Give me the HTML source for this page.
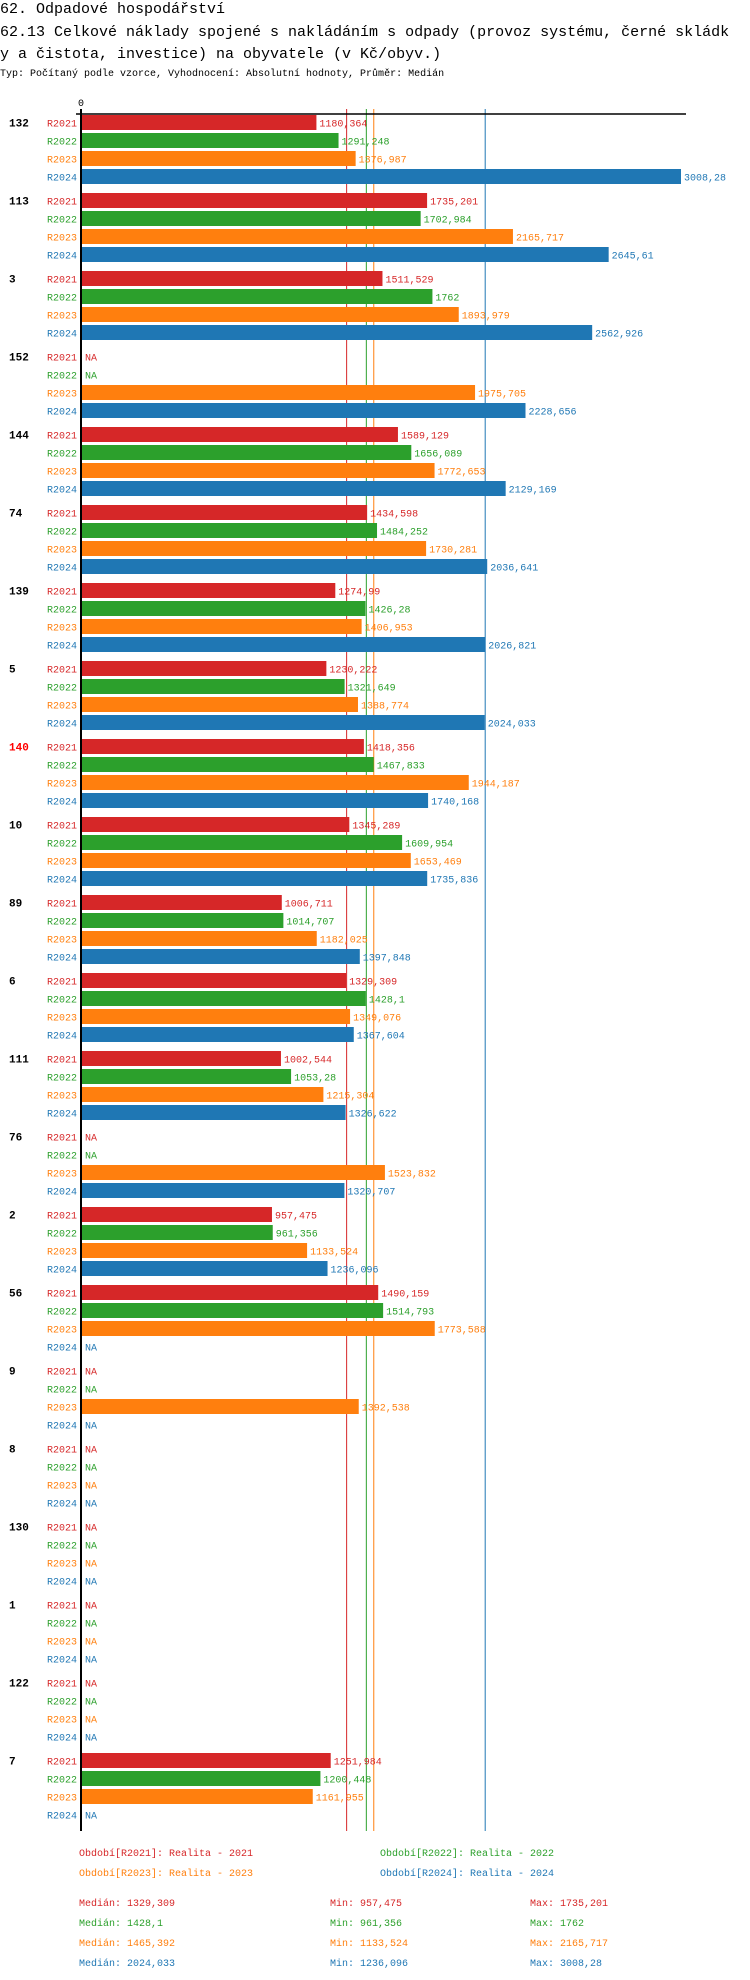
<!DOCTYPE html>
<html><head><meta charset="utf-8"><style>
body{margin:0;background:#fff;width:750px;height:1980px;overflow:hidden}
svg{display:block}
text{font-family:"Liberation Mono","DejaVu Sans Mono",monospace}
</style></head><body>
<svg id="chart" width="750" height="1980" xmlns="http://www.w3.org/2000/svg">
<text x="0" y="13" font-size="15" fill="#000">62. Odpadové hospodářství</text>
<text x="0" y="36" font-size="15" fill="#000">62.13 Celkové náklady spojené s nakládáním s odpady (provoz systému, černé skládk</text>
<text x="0" y="58" font-size="15" fill="#000">y a čistota, investice) na obyvatele (v Kč/obyv.)</text>
<text x="0" y="76" font-size="10" fill="#000">Typ: Počítaný podle vzorce, Vyhodnocení: Absolutní hodnoty, Průměr: Medián</text>
<g id="plot"></g>
</svg>
<script>
const categories=["132","113","3","152","144","74","139","5","140","10","89","6","111","76","2","56","9","8","130","1","122","7"];
const seriesNames=["R2021","R2022","R2023","R2024"];
const r2021=[1180.364,1735.201,1511.529,null,1589.129,1434.598,1274.99,1230.222,1418.356,1345.289,1006.711,1329.309,1002.544,null,957.475,1490.159,null,null,null,null,null,1251.984];
const r2022=[1291.248,1702.984,1762,null,1656.089,1484.252,1426.28,1321.649,1467.833,1609.954,1014.707,1428.1,1053.28,null,961.356,1514.793,null,null,null,null,null,1200.448];
const r2023=[1376.987,2165.717,1893.979,1975.705,1772.653,1730.281,1406.953,1388.774,1944.187,1653.469,1182.025,1349.076,1215.304,1523.832,1133.524,1773.588,1392.538,null,null,null,null,1161.955];
const r2024=[3008.28,2645.61,2562.926,2228.656,2129.169,2036.641,2026.821,2024.033,1740.168,1735.836,1397.848,1367.604,1326.622,1320.707,1236.096,null,null,null,null,null,null,null];
const medians=[1329.309,1428.1,1465.392,2024.033];
const mins=[957.475,961.356,1133.524,1236.096];
const maxs=[1735.201,1762,2165.717,3008.28];
const legendLabels=["Období[R2021]: Realita - 2021","Období[R2022]: Realita - 2022","Období[R2023]: Realita - 2023","Období[R2024]: Realita - 2024"];
const medianLabels=["Medián: 1329,309","Medián: 1428,1","Medián: 1465,392","Medián: 2024,033"];
const minLabels=["Min: 957,475","Min: 961,356","Min: 1133,524","Min: 1236,096"];
const maxLabels=["Max: 1735,201","Max: 1762","Max: 2165,717","Max: 3008,28"];
const highlight="140";

const colors=["#d62728","#2ca02c","#ff7f0e","#1f77b4"];
const series=[r2021,r2022,r2023,r2024];
const NS="http://www.w3.org/2000/svg";
const g=document.getElementById('plot');
const X0=81, KX=600/3008.28, TOP=115, GP=78, BP=18, BH=15;
const x=v=>X0+v*KX;
const y=(gi,si)=>TOP+gi*GP+si*BP;
const bottom=y(categories.length-1,3)+BH+9;
function el(tag,attrs,txt){const e=document.createElementNS(NS,tag);for(const k in attrs)e.setAttribute(k,attrs[k]);if(txt!==undefined)e.textContent=txt;g.appendChild(e);return e;}
function fmt(v){return String(v).replace('.',',');}

medians.forEach((m,i)=>{
  const l=el('line',{x1:x(m)+0.5,x2:x(m)+0.5,y1:109,y2:bottom,stroke:colors[i],'stroke-width':1});
  
  
});
categories.forEach((c,gi)=>{
  const t=el('text',{x:9,y:y(gi,0)+BH/2+4,'font-size':11,'font-weight':'bold',fill:c===highlight?'#ff0000':'#000'},c);
  
  
  series.forEach((s,si)=>{
    const v=s[gi], yy=y(gi,si);
    const sl=el('text',{x:77,y:yy+BH/2+4,'font-size':10,fill:colors[si],'text-anchor':'end'},seriesNames[si]);
    
    
    if(v===null){
      const na=el('text',{x:X0+4,y:yy+BH/2+4,'font-size':10,fill:colors[si]},'NA');
      
      
      return;
    }
    const r=el('rect',{x:X0+1,y:yy,width:x(v)-X0-1,height:BH,fill:colors[si]});
    
    
    const vl=el('text',{x:x(v)+3,y:yy+BH/2+4,'font-size':10,fill:colors[si]},fmt(v));
    
    
  });
});
const ax=el('line',{x1:X0,x2:X0,y1:109,y2:bottom,stroke:'#000','stroke-width':2});


const hx=el('line',{x1:76,x2:686,y1:114,y2:114,stroke:'#000','stroke-width':1.5});


const z=el('text',{x:X0,y:106,'font-size':10,fill:'#000','text-anchor':'middle'},'0');


legendLabels.forEach((t,i)=>{
  const e=el('text',{x:i%2?380:79,y:1856+Math.floor(i/2)*20,'font-size':10,fill:colors[i]},t);
  
  
});
[medianLabels,minLabels,maxLabels].forEach((arr,ci)=>{
  arr.forEach((t,i)=>{
    const e=el('text',{x:[79,330,530][ci],y:1906+i*20,'font-size':10,fill:colors[i]},t);
    
    
  });
});
</script>
</body></html>
